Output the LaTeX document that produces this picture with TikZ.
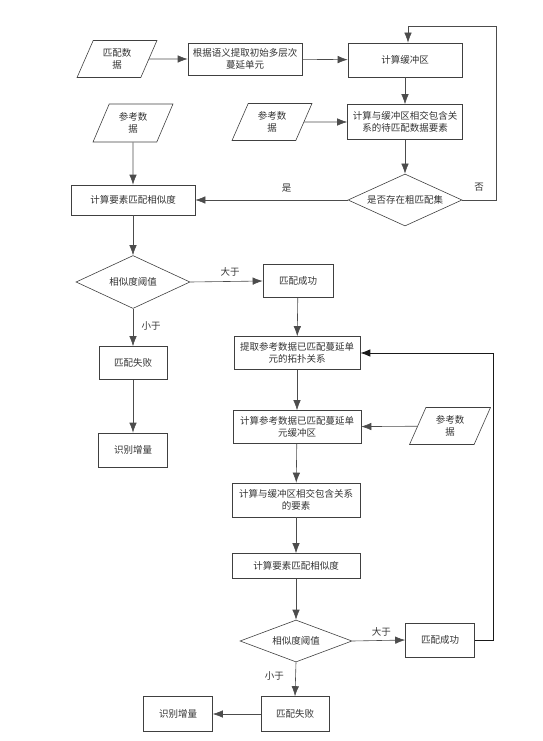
\documentclass[tikz,border=0pt]{standalone}
\usepackage{fontspec}
\newfontfamily\cjk{Noto Sans CJK SC}
\usetikzlibrary{shapes.geometric,arrows.meta}
\tikzset{
  base/.style={draw=black!75, line width=0.6pt, text=black!80, align=center, inner sep=1pt,
    font=\cjk\fontsize{9.5}{12.5}\selectfont},
  box/.style={base, rectangle},
  io/.style={base, trapezium, trapezium left angle=66, trapezium right angle=114,
    trapezium stretches=true},
  dec/.style={base, diamond, aspect=2.2, inner sep=0pt},
  conn/.style={draw=black!70, line width=0.6pt, -{Latex[length=10pt,width=7.5pt]}},
  lbl/.style={font=\cjk\fontsize{9.5}{12}\selectfont, text=black!80}
}
\begin{document}
\begin{tikzpicture}[x=1pt,y=-1pt]
\useasboundingbox (0,0) rectangle (542,741);
% top row
\node[io, minimum width=80, minimum height=37] (p1) at (117,59) {匹配数\\据};
\node[box, minimum width=114, minimum height=32] (b1) at (245,59) {根据语义提取初始多层次\\蔓延单元};
\node[box, minimum width=114, minimum height=34] (b2) at (405,60) {计算缓冲区};
\node[io, minimum width=80, minimum height=37] (p2) at (272,122) {参考数\\据};
\node[box, minimum width=115, minimum height=35] (b3) at (405,122) {计算与缓冲区相交包含关\\系的待匹配数据要素};
\node[dec, minimum width=114, minimum height=52] (d1) at (405,200) {是否存在粗匹配集};
% left column
\node[io, minimum width=80, minimum height=38] (p3) at (133,123) {参考数\\据};
\node[box, minimum width=124, minimum height=30] (s1) at (133,200) {计算要素匹配相似度};
\node[dec, minimum width=114, minimum height=53] (d2) at (133,282) {相似度阈值};
\node[box, minimum width=68, minimum height=33] (f1) at (133,363) {匹配失败};
\node[box, minimum width=69, minimum height=34] (i1) at (133,450) {识别增量};
% middle column
\node[box, minimum width=70, minimum height=33] (o1) at (298,281) {匹配成功};
\node[box, minimum width=126, minimum height=33] (t1) at (297,353) {提取参考数据已匹配蔓延单\\元的拓扑关系};
\node[box, minimum width=128, minimum height=33] (u1) at (297,427) {计算参考数据已匹配蔓延单\\元缓冲区};
\node[io, minimum width=81, minimum height=37] (p4) at (450,426) {参考数\\据};
\node[box, minimum width=128, minimum height=34] (x1) at (296,500) {计算与缓冲区相交包含关系\\的要素};
\node[box, minimum width=128, minimum height=25] (s2) at (296,566) {计算要素匹配相似度};
\node[dec, minimum width=112, minimum height=42] (d3) at (296,641) {相似度阈值};
\node[box, minimum width=69, minimum height=34] (o2) at (440,640) {匹配成功};
\node[box, minimum width=68, minimum height=35] (f2) at (295,714) {匹配失败};
\node[box, minimum width=69, minimum height=35] (i2) at (178,714) {识别增量};
% coordinates for loops
\coordinate (c1) at (496,200);
\coordinate (c2) at (496,26);
\coordinate (c3) at (408,26);
\coordinate (c4) at (493,640);
\coordinate (c5) at (493,353);
% connectors
\draw[conn] (p1) -- (b1);
\draw[conn] (b1) -- (b2);
\draw[conn] (b2) -- (b3);
\draw[conn] (p2) -- (b3);
\draw[conn] (b3) -- (d1);
\draw[conn] (d1.west) -- (s1.east) node[lbl, pos=0.4, above=4pt] {是};
\draw[conn] (d1.east) -- (c1) -- (c2) -- (c3) -- (c3 |- b2.north);
\node[lbl] (no) at (479,187) {否};
\draw[conn] (p3) -- (s1);
\draw[conn] (s1) -- (d2);
\draw[conn] (d2.east) -- (o1.west) node[lbl, pos=0.55, above=2pt] {大于};
\draw[conn] (d2.south) -- (f1.north) node[lbl, pos=0.45, right=5pt] {小于};
\draw[conn] (f1) -- (i1);
\draw[conn] (o1) -- (t1);
\draw[conn] (t1) -- (u1);
\draw[conn] (p4) -- (u1);
\draw[conn] (u1) -- (x1);
\draw[conn] (x1) -- (s2);
\draw[conn] (s2) -- (d3);
\draw[conn] (d3.east) -- (o2.west) node[lbl, pos=0.55, above=1pt] {大于};
\draw[conn, draw=black!90, line width=0.9pt] (o2.east) -- (c4) -- (c5) -- (t1.east);
\draw[conn] (d3.south) -- (f2.north) node[lbl, pos=0.4, left=8pt] {小于};
\draw[conn] (f2) -- (i2);
\end{tikzpicture}
\end{document}
